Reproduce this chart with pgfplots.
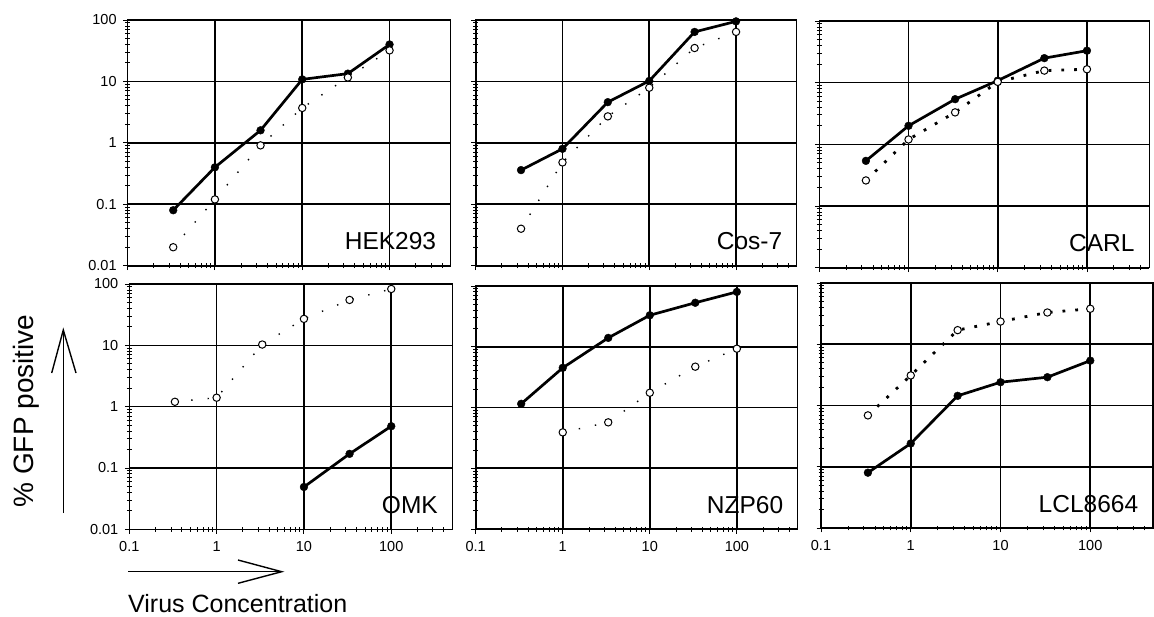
\documentclass[border=0pt]{standalone}
\usepackage{fontspec}
\setmainfont{Liberation Sans}
\usepackage{pgfplots}
\pgfplotsset{compat=1.18}

\tikzset{
  gfpfull/.style={black, line width=2.7pt, mark=*, mark size=3.9pt,
    mark options={solid, fill=black, draw=black, line width=0.4pt}},
  gfpopen/.style={black, line width=1.4pt, dash pattern=on 1.4pt off 15pt,
    mark=*, mark size=3.7pt, mark options={solid, fill=white, draw=black, line width=1pt}},
  gfpbold/.style={gfpopen, line width=2.8pt, dash pattern=on 2.8pt off 10pt},
  gfplabel/.style={anchor=base east, font=\fontsize{24.5pt}{25pt}\selectfont},
}

\begin{document}
\begin{tikzpicture}
% one picture pixel = 1pt
\useasboundingbox (0,0) rectangle (1154pt,-616pt);

\begin{axis}[xmode=log, ymode=log, scale only axis, anchor=north west,
    xmin=0.1, xmax=500, ymin=0.01, ymax=100,
    xtick={0.1,1,10,100}, ytick={0.01,0.1,1,10,100},
    minor xtick={0.2,0.3,0.4,0.5,0.6,0.7,0.8,0.9,2,3,4,5,6,7,8,9,20,30,40,50,60,70,80,90,200,300,400},
    minor ytick={0.02,0.03,0.04,0.05,0.06,0.07,0.08,0.09,0.2,0.3,0.4,0.5,0.6,0.7,0.8,0.9,2,3,4,5,6,7,8,9,20,30,40,50,60,70,80,90},
    grid=major, major grid style={black, line width=1.6pt},
    tick pos=left, tick align=center, major tick length=9pt, minor tick length=5pt,
    tick style={black, line width=0.9pt}, axis line style={black, line width=1.2pt},
    tick label style={font=\fontsize{14.5pt}{15pt}\selectfont}, clip=false,
    xticklabels={}, yticklabels={0.01,0.1,1,10,100}, yticklabel style={xshift=-3pt},
    at={(127.6pt,-20pt)}, width=323pt, height=245.7pt]
  \addplot[gfpfull] coordinates {(0.333,0.08)(1,0.40)(3.33,1.6)(10,10.8)(33.3,13.4)(100,40)};
  \addplot[gfpopen] coordinates {(0.333,0.020)(1,0.12)(3.33,0.91)(10,3.7)(33.3,11.6)(100,32)};
  \node[gfplabel] at (rel axis cs:0.966,0.065) {HEK293};
\end{axis}

\begin{axis}[xmode=log, ymode=log, scale only axis, anchor=north west,
    xmin=0.1, xmax=500, ymin=0.01, ymax=100,
    xtick={0.1,1,10,100}, ytick={0.01,0.1,1,10,100},
    minor xtick={0.2,0.3,0.4,0.5,0.6,0.7,0.8,0.9,2,3,4,5,6,7,8,9,20,30,40,50,60,70,80,90,200,300,400},
    minor ytick={0.02,0.03,0.04,0.05,0.06,0.07,0.08,0.09,0.2,0.3,0.4,0.5,0.6,0.7,0.8,0.9,2,3,4,5,6,7,8,9,20,30,40,50,60,70,80,90},
    grid=major, major grid style={black, line width=1.6pt},
    tick pos=left, tick align=center, major tick length=9pt, minor tick length=5pt,
    tick style={black, line width=0.9pt}, axis line style={black, line width=1.2pt},
    tick label style={font=\fontsize{14.5pt}{15pt}\selectfont}, clip=false,
    xticklabels={}, yticklabels={},
    at={(475.7pt,-20pt)}, width=321pt, height=245.7pt]
  \addplot[gfpfull] coordinates {(0.333,0.36)(1,0.80)(3.33,4.6)(10,10.2)(33.3,64)(100,95)};
  \addplot[gfpopen] coordinates {(0.333,0.040)(1,0.48)(3.33,2.7)(10,7.9)(33.3,35)(100,64)};
  \node[gfplabel] at (rel axis cs:0.966,0.065) {Cos-7};
\end{axis}

\begin{axis}[xmode=log, ymode=log, scale only axis, anchor=north west,
    xmin=0.1, xmax=500, ymin=0.01, ymax=100,
    xtick={0.1,1,10,100}, ytick={0.01,0.1,1,10,100},
    minor xtick={0.2,0.3,0.4,0.5,0.6,0.7,0.8,0.9,2,3,4,5,6,7,8,9,20,30,40,50,60,70,80,90,200,300,400},
    minor ytick={0.02,0.03,0.04,0.05,0.06,0.07,0.08,0.09,0.2,0.3,0.4,0.5,0.6,0.7,0.8,0.9,2,3,4,5,6,7,8,9,20,30,40,50,60,70,80,90},
    grid=major, major grid style={black, line width=1.6pt},
    tick pos=left, tick align=center, major tick length=9pt, minor tick length=5pt,
    tick style={black, line width=0.9pt}, axis line style={black, line width=1.2pt},
    tick label style={font=\fontsize{14.5pt}{15pt}\selectfont}, clip=false,
    xticklabels={}, yticklabels={},
    at={(819.3pt,-21pt)}, width=330pt, height=246.7pt]
  \addplot[gfpfull] coordinates {(0.333,0.54)(1,2.0)(3.33,5.4)(10,10.8)(33.3,25)(100,33)};
  \addplot[gfpbold] coordinates {(0.333,0.26)(1,1.2)(3.33,3.3)(10,10.3)(33.3,15.7)(100,16.5)};
  \node[gfplabel] at (rel axis cs:0.966,0.065) {CARL};
\end{axis}

\begin{axis}[xmode=log, ymode=log, scale only axis, anchor=north west,
    xmin=0.1, xmax=500, ymin=0.01, ymax=100,
    xtick={0.1,1,10,100}, ytick={0.01,0.1,1,10,100},
    minor xtick={0.2,0.3,0.4,0.5,0.6,0.7,0.8,0.9,2,3,4,5,6,7,8,9,20,30,40,50,60,70,80,90,200,300,400},
    minor ytick={0.02,0.03,0.04,0.05,0.06,0.07,0.08,0.09,0.2,0.3,0.4,0.5,0.6,0.7,0.8,0.9,2,3,4,5,6,7,8,9,20,30,40,50,60,70,80,90},
    grid=major, major grid style={black, line width=1.6pt},
    tick pos=left, tick align=center, major tick length=9pt, minor tick length=5pt,
    tick style={black, line width=0.9pt}, axis line style={black, line width=1.2pt},
    tick label style={font=\fontsize{14.5pt}{15pt}\selectfont}, clip=false,
    xticklabels={0.1,1,10,100}, xticklabel style={yshift=-4pt},
    yticklabels={0.01,0.1,1,10,100}, yticklabel style={xshift=-3pt},
    at={(129.3pt,-284pt)}, width=323pt, height=245.3pt]
  \addplot[gfpfull] coordinates {(10,0.049)(33.3,0.17)(100,0.48)};
  \addplot[gfpopen] coordinates {(0.333,1.2)(1,1.4)(3.33,10.3)(10,27)(33.3,55)(100,83)};
  \node[gfplabel] at (rel axis cs:0.966,0.065) {OMK};
\end{axis}

\begin{axis}[xmode=log, ymode=log, scale only axis, anchor=north west,
    xmin=0.1, xmax=500, ymin=0.01, ymax=100,
    xtick={0.1,1,10,100}, ytick={0.01,0.1,1,10,100},
    minor xtick={0.2,0.3,0.4,0.5,0.6,0.7,0.8,0.9,2,3,4,5,6,7,8,9,20,30,40,50,60,70,80,90,200,300,400},
    minor ytick={0.02,0.03,0.04,0.05,0.06,0.07,0.08,0.09,0.2,0.3,0.4,0.5,0.6,0.7,0.8,0.9,2,3,4,5,6,7,8,9,20,30,40,50,60,70,80,90},
    grid=major, major grid style={black, line width=1.6pt},
    tick pos=left, tick align=center, major tick length=9pt, minor tick length=5pt,
    tick style={black, line width=0.9pt}, axis line style={black, line width=1.2pt},
    tick label style={font=\fontsize{14.5pt}{15pt}\selectfont}, clip=false,
    xticklabels={0.1,1,10,100}, xticklabel style={yshift=-4pt}, yticklabels={},
    at={(475.7pt,-286pt)}, width=322pt, height=243pt]
  \addplot[gfpfull] coordinates {(0.333,1.15)(1,4.5)(3.33,14)(10,33)(33.3,53)(100,80)};
  \addplot[gfpopen] coordinates {(1,0.39)(3.33,0.57)(10,1.75)(33.3,4.7)(100,9.3)};
  \node[gfplabel] at (rel axis cs:0.966,0.065) {NZP60};
\end{axis}

\begin{axis}[xmode=log, ymode=log, scale only axis, anchor=north west,
    xmin=0.1, xmax=500, ymin=0.01, ymax=100,
    xtick={0.1,1,10,100}, ytick={0.01,0.1,1,10,100},
    minor xtick={0.2,0.3,0.4,0.5,0.6,0.7,0.8,0.9,2,3,4,5,6,7,8,9,20,30,40,50,60,70,80,90,200,300,400},
    minor ytick={0.02,0.03,0.04,0.05,0.06,0.07,0.08,0.09,0.2,0.3,0.4,0.5,0.6,0.7,0.8,0.9,2,3,4,5,6,7,8,9,20,30,40,50,60,70,80,90},
    grid=major, major grid style={black, line width=1.6pt},
    tick pos=left, tick align=center, major tick length=9pt, minor tick length=5pt,
    tick style={black, line width=0.9pt}, axis line style={black, line width=1.2pt},
    tick label style={font=\fontsize{14.5pt}{15pt}\selectfont}, clip=false,
    xticklabels={0.1,1,10,100}, xticklabel style={yshift=-4pt}, yticklabels={},
    at={(821pt,-283pt)}, width=332pt, height=245pt]
  \addplot[gfpfull] coordinates {(0.333,0.080)(1,0.24)(3.33,1.44)(10,2.4)(33.3,2.9)(100,5.4)};
  \addplot[gfpbold] coordinates {(0.333,0.69)(1,3.1)(3.33,17)(10,23.5)(33.3,33)(100,38)};
  \node[gfplabel] at (rel axis cs:0.966,0.065) {LCL8664};
\end{axis}

% axis titles with arrows
\node[rotate=90, anchor=base, font=\fontsize{28pt}{28pt}\selectfont] at (33pt,-411pt) {\% GFP positive};
\draw[line width=1.4pt] (63.3pt,-513pt) -- (63.3pt,-330pt);
\draw[line width=1.4pt] (51.7pt,-373pt) -- (63.3pt,-330pt) -- (76pt,-373pt);
\node[anchor=base west, font=\fontsize{25pt}{25pt}\selectfont, inner sep=0pt] at (128pt,-612pt) {Virus Concentration};
\draw[line width=1.4pt] (128pt,-571.7pt) -- (281.7pt,-571.7pt);
\draw[line width=1.4pt] (238pt,-560pt) -- (281.7pt,-571.7pt) -- (238pt,-583.3pt);
\end{tikzpicture}
\end{document}
